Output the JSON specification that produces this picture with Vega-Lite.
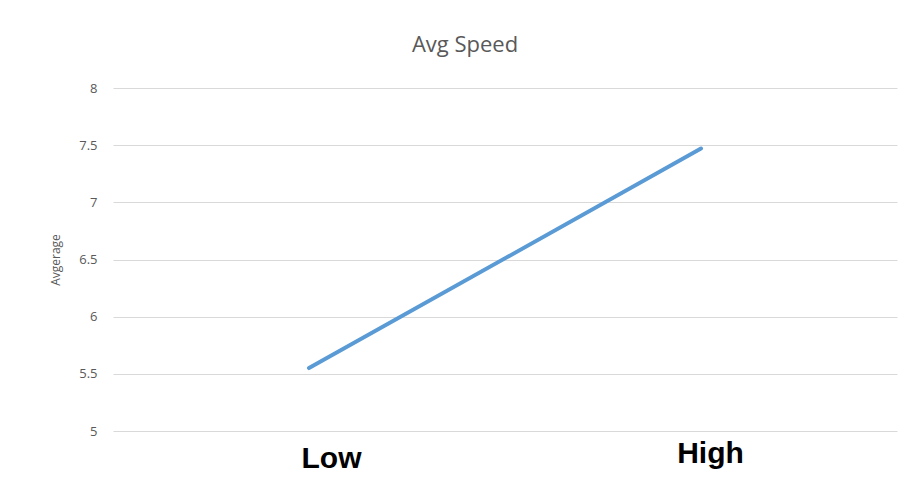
{
  "$schema": "https://vega.github.io/schema/vega-lite/v6.json",
  "width": 784,
  "height": 343,
  "autosize": {"type": "none"},
  "padding": {"left": 113, "top": 88, "right": 19, "bottom": 50},
  "background": "#ffffff",
  "title": {
    "text": "Avg Speed",
    "font": "Open Sans",
    "fontSize": 22,
    "fontWeight": "normal",
    "color": "#595959",
    "anchor": "middle",
    "dx": -40,
    "offset": 25
  },
  "data": {
    "values": [
      {"level": "Low", "speed": 5.55},
      {"level": "High", "speed": 7.47}
    ]
  },
  "mark": {"type": "line", "color": "#5b9bd5", "strokeWidth": 4, "strokeCap": "round"},
  "encoding": {
    "x": {
      "field": "level",
      "type": "nominal",
      "sort": ["Low", "High"],
      "scale": {"type": "point", "padding": 0.5},
      "axis": {
        "title": null,
        "domain": false,
        "ticks": false,
        "grid": false,
        "labelAngle": 0,
        "labelFont": "Liberation Sans",
        "labelFontSize": 30,
        "labelFontWeight": "bold",
        "labelColor": "#000000",
        "labelBaseline": "alphabetic",
        "labelOffset": {"expr": "datum.value == 'Low' ? 22 : 9"},
        "labelPadding": {"expr": "datum.value == 'Low' ? 36 : 31"}
      }
    },
    "y": {
      "field": "speed",
      "type": "quantitative",
      "scale": {"domain": [5, 8], "nice": false, "zero": false},
      "axis": {
        "title": "Avgerage",
        "titleFont": "Open Sans",
        "titleFontSize": 12,
        "titleFontWeight": "normal",
        "titleColor": "#595959",
        "titlePadding": 16,
        "values": [5, 5.5, 6, 6.5, 7, 7.5, 8],
        "format": "~g",
        "domain": false,
        "ticks": false,
        "labelFont": "Open Sans",
        "labelFontSize": 13,
        "labelColor": "#595959",
        "labelPadding": 16,
        "grid": true,
        "gridColor": "#d9d9d9",
        "gridWidth": 1
      }
    }
  },
  "config": {"view": {"stroke": null}}
}
